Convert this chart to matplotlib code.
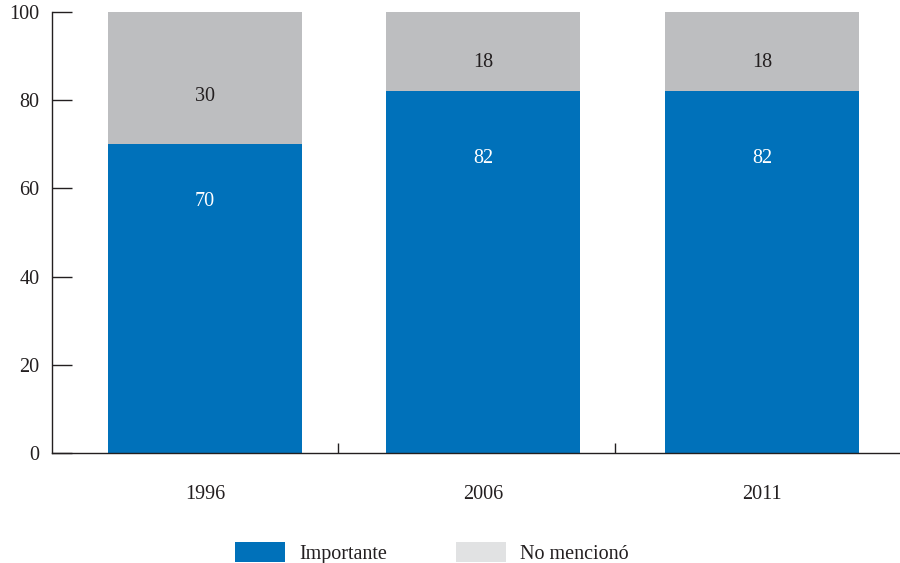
import matplotlib
matplotlib.use("Agg")
import matplotlib.pyplot as plt
from matplotlib.patches import Patch

years = ["1996", "2006", "2011"]
importante = [70, 82, 82]
no_menciono = [30, 18, 18]
yticks = [0, 20, 40, 60, 80, 100]

blue = "#0071BA"
gray_bar = "#BDBEC0"
gray_leg = "#E1E2E3"
txt = "#231F20"

plt.rcParams["font.family"] = ["Liberation Serif", "DejaVu Serif"]
fs = 14.5

fig = plt.figure(figsize=(9, 5.63), dpi=100)
ax = fig.add_axes([52/900, 1-453/563, 1-52/900, (453-12)/563])

x = list(range(len(years)))
ax.bar(x, importante, width=0.697, color=blue, linewidth=0)
ax.bar(x, no_menciono, bottom=importante, width=0.697, color=gray_bar, linewidth=0)

for i in x:
    ax.text(i, importante[i]*0.815, str(importante[i]), ha="center", va="center",
            color="white", fontsize=fs)
    ax.text(i, importante[i] + no_menciono[i]*0.36, str(no_menciono[i]), ha="center",
            va="center", color=txt, fontsize=fs)

ax.set_xlim(-0.549, 2.496)
ax.set_ylim(0, 100)
ax.set_yticks(yticks)
ax.set_yticklabels([str(v) for v in yticks], fontsize=fs, color=txt)
ax.tick_params(axis="y", direction="in", length=14.4, width=1.0, color=txt, pad=9)
ax.set_xticks(x)
ax.set_xticklabels(years, fontsize=fs, color=txt)
ax.tick_params(axis="x", which="major", length=0, pad=23)
ax.set_xticks([0.478, 1.472], minor=True)
ax.tick_params(axis="x", which="minor", direction="in", length=7.2, width=1.0, color=txt)

for s in ["top", "right"]:
    ax.spines[s].set_visible(False)
for s in ["left", "bottom"]:
    ax.spines[s].set_color(txt)
    ax.spines[s].set_linewidth(1.0)

handles = [Patch(facecolor=blue, edgecolor="none"), Patch(facecolor=gray_leg, edgecolor="none")]
fig.legend(handles, ["Importante", "No mencionó"], loc="center",
           bbox_to_anchor=(432/900, 1-553/563), ncol=2, frameon=False,
           fontsize=fs, handlelength=2.5, handleheight=1.1, columnspacing=3.4,
           handletextpad=0.7, labelcolor=txt)

fig.savefig("out.png", dpi=100)
